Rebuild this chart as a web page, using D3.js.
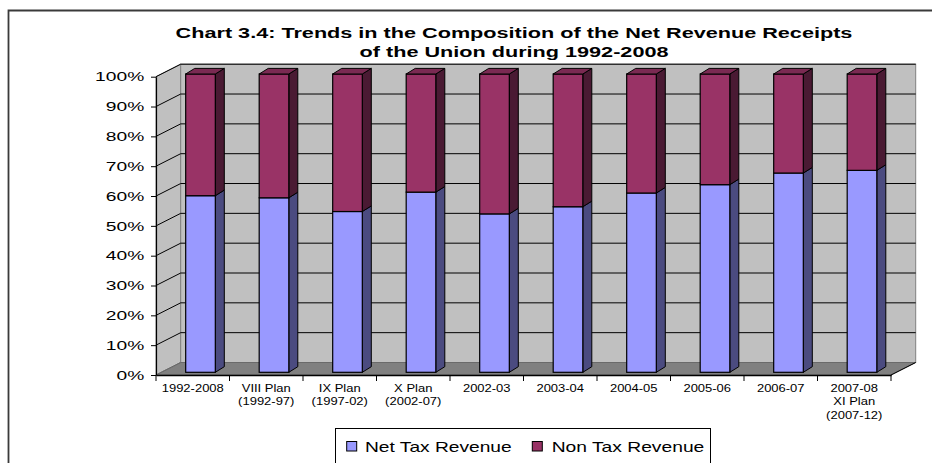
<!DOCTYPE html>
<html>
<head>
<meta charset="utf-8">
<script src="https://cdn.jsdelivr.net/npm/d3@7/dist/d3.min.js"></script>
<style>
  html, body { margin: 0; padding: 0; background: #fff; }
  svg { display: block; }
  text { font-family: "Liberation Sans", Arial, sans-serif; fill: #000; }
</style>
</head>
<body>
<svg id="chart" width="932" height="463"></svg>
<script>
// ---------------- data ----------------
const titleLines = ["Chart 3.4: Trends in the Composition of the Net Revenue Receipts",
                    "of the Union during 1992-2008"];
const categories = ["1992-2008", "VIII Plan\n(1992-97)", "IX Plan\n(1997-02)", "X Plan\n(2002-07)",
                    "2002-03", "2003-04", "2004-05", "2005-06", "2006-07",
                    "2007-08\nXI Plan\n(2007-12)"];
const netTaxRevenue = [59.2, 58.5, 53.9, 60.4, 53.1, 55.5, 60.1, 62.9, 66.8, 67.7];
const nonTaxRevenue = [40.8, 41.5, 46.1, 39.6, 46.9, 44.5, 39.9, 37.1, 33.2, 32.3];
const seriesNames = ["Net Tax Revenue", "Non Tax Revenue"];
const yTicks = [0, 0.1, 0.2, 0.3, 0.4, 0.5, 0.6, 0.7, 0.8, 0.9, 1.0];
const yTickLabels = ["0%", "10%", "20%", "30%", "40%", "50%", "60%", "70%", "80%", "90%", "100%"];

// ---------------- styles ----------------
const frontColors = ["#9999ff", "#993366"];
const sideColors  = ["#4b4b80", "#4a1a33"];
const topColors   = ["#7c7cd0", "#7a2a52"];

const svg = d3.select("#chart");
svg.append("rect").attr("width", 932).attr("height", 463).attr("fill", "#fff");

// outer frame (left and top edges visible)
svg.append("path").attr("d", "M8.5,463 V10.5 H932")
  .attr("fill", "none").attr("stroke", "#3a3a3a").attr("stroke-width", 1.8);

// ---------------- scales ----------------
const x = d3.scaleBand().domain(categories).range([156, 891]);
const y = d3.scaleLinear().domain([0, 1]).range([375, 76.7]);
const DX = 24.7, DY = -12.5;        // wall depth
const BOX = 7.75, BOY = -2.7;       // bar front offset into depth
const SDX = 9, SDY = -5.6;          // bar depth
const barFrac = 0.403;

const x0 = x.range()[0], x1 = x.range()[1];

// side wall
svg.append("polygon")
  .attr("points", [[x0, y(0)], [x0, y(1)], [x0 + DX, y(1) + DY], [x0 + DX, y(0) + DY]].join(" "))
  .attr("fill", "#c0c0c0").attr("stroke", "#808080");
// back wall
svg.append("rect")
  .attr("x", x0 + DX).attr("y", y(1) + DY)
  .attr("width", x1 - x0).attr("height", y(0) - y(1))
  .attr("fill", "#c0c0c0").attr("stroke", "#808080");
// floor
svg.append("polygon")
  .attr("points", [[x0, y(0)], [x1, y(0)], [x1 + DX, y(0) + DY], [x0 + DX, y(0) + DY]].join(" "))
  .attr("fill", "#808080").attr("stroke", "#6a6a6a");

// gridlines
const grid = svg.append("g");
yTicks.filter(t => t > 0).forEach(t => {
  grid.append("line").attr("x1", x0).attr("y1", y(t)).attr("x2", x0 + DX).attr("y2", y(t) + DY)
    .attr("stroke", "#000").attr("stroke-width", 1);
  grid.append("line").attr("x1", x0 + DX).attr("y1", y(t) + DY).attr("x2", x1 + DX).attr("y2", y(t) + DY)
    .attr("stroke", "#000").attr("stroke-width", 1);
});
// dotted 0 line on side wall
grid.append("line").attr("x1", x0).attr("y1", y(0)).attr("x2", x0 + DX).attr("y2", y(0) + DY)
  .attr("stroke", "#666").attr("stroke-dasharray", "1,1");
// right floor edge
grid.append("line").attr("x1", x1).attr("y1", y(0)).attr("x2", x1 + DX).attr("y2", y(0) + DY)
  .attr("stroke", "#000");

// ---------------- bars ----------------
const rows = categories.map((c, i) => ({ cat: c, net: netTaxRevenue[i], non: nonTaxRevenue[i] }));
const stacked = d3.stack().keys(["net", "non"]).offset(d3.stackOffsetExpand)(rows);

const barsG = svg.append("g");
const bw = x.bandwidth() * barFrac;
rows.forEach((r, i) => {
  const bx = x(r.cat) + x.bandwidth() / 2 - bw / 2 + BOX;
  stacked.forEach((s, si) => {
    const d = s[i];
    const yt = y(d[1]) + BOY, yb = y(d[0]) + BOY;
    // side
    barsG.append("polygon")
      .attr("points", [[bx + bw, yt], [bx + bw + SDX, yt + SDY], [bx + bw + SDX, yb + SDY], [bx + bw, yb]].join(" "))
      .attr("fill", sideColors[si]).attr("stroke", "#000").attr("stroke-width", 1).attr("stroke-linejoin", "round");
    // front
    barsG.append("rect").attr("x", bx).attr("y", yt).attr("width", bw).attr("height", yb - yt)
      .attr("fill", frontColors[si]).attr("stroke", "#000").attr("stroke-width", 1.2);
    // top
    if (si === stacked.length - 1) {
      barsG.append("polygon")
        .attr("points", [[bx, yt], [bx + SDX, yt + SDY], [bx + bw + SDX, yt + SDY], [bx + bw, yt]].join(" "))
        .attr("fill", topColors[si]).attr("stroke", "#000").attr("stroke-width", 1).attr("stroke-linejoin", "round");
    }
  });
});

// ---------------- axes ----------------
const yAxis = svg.append("g").attr("transform", `translate(${x0},0)`)
  .call(d3.axisLeft(y).tickValues(yTicks).tickFormat((d, i) => yTickLabels[i]).tickSize(5).tickSizeOuter(0));
yAxis.select(".domain").attr("stroke", "#000").attr("stroke-width", 1.2);
yAxis.selectAll(".tick line").attr("stroke", "#000");
yAxis.selectAll(".tick text")
  .attr("x", 0).attr("dy", "0.33em")
  .attr("transform", "translate(-11.7,0) scale(1.48,1)")
  .style("font-size", "13px").style("font-family", "'Liberation Sans', Arial, sans-serif")
  .attr("fill", "#000");

const xAxis = svg.append("g").attr("transform", `translate(0,${y(0)})`)
  .call(d3.axisBottom(x).tickSize(0).tickSizeOuter(0).tickFormat(""));
xAxis.select(".domain").attr("stroke", "#000").attr("stroke-width", 1.4);
xAxis.selectAll(".tick").remove();
const bounds = categories.map(c => x(c)).concat([x1]);
xAxis.selectAll("line.bt").data(bounds).enter().append("line").attr("class", "bt")
  .attr("x1", d => d).attr("x2", d => d).attr("y1", 0).attr("y2", 6)
  .attr("stroke", "#000");

const xl = svg.append("g");
categories.forEach(c => {
  const cx = x(c) + x.bandwidth() / 2;
  c.split("\n").forEach((ln, li) => {
    xl.append("text")
      .attr("transform", `translate(${cx},${392 + li * 13.4}) scale(1.3,1)`)
      .attr("text-anchor", "middle")
      .style("font-size", "10px")
      .text(ln);
  });
});

// ---------------- title ----------------
titleLines.forEach((t, i) => {
  svg.append("text")
    .attr("transform", `translate(514,${37.7 + i * 19}) scale(1.546,1)`)
    .attr("text-anchor", "middle")
    .style("font-size", "14px").style("font-weight", "bold")
    .text(t);
});

// ---------------- legend ----------------
const lg = svg.append("g");
lg.append("rect").attr("x", 335.5).attr("y", 428.5).attr("width", 375).attr("height", 50)
  .attr("fill", "#fff").attr("stroke", "#000").attr("stroke-width", 1);
const legendPos = [{ sx: 346.7, tx: 365, tl: 146.7 }, { sx: 532.3, tx: 551.7, tl: 152.6 }];
seriesNames.forEach((n, i) => {
  lg.append("rect").attr("x", legendPos[i].sx).attr("y", 441.5).attr("width", 10).attr("height", 9.5)
    .attr("fill", frontColors[i]).attr("stroke", "#000").attr("stroke-width", 1);
  lg.append("text").attr("x", legendPos[i].tx).attr("y", 451.5)
    .attr("textLength", legendPos[i].tl).attr("lengthAdjust", "spacingAndGlyphs")
    .style("font-size", "15px")
    .text(n);
});
</script>
</body>
</html>
